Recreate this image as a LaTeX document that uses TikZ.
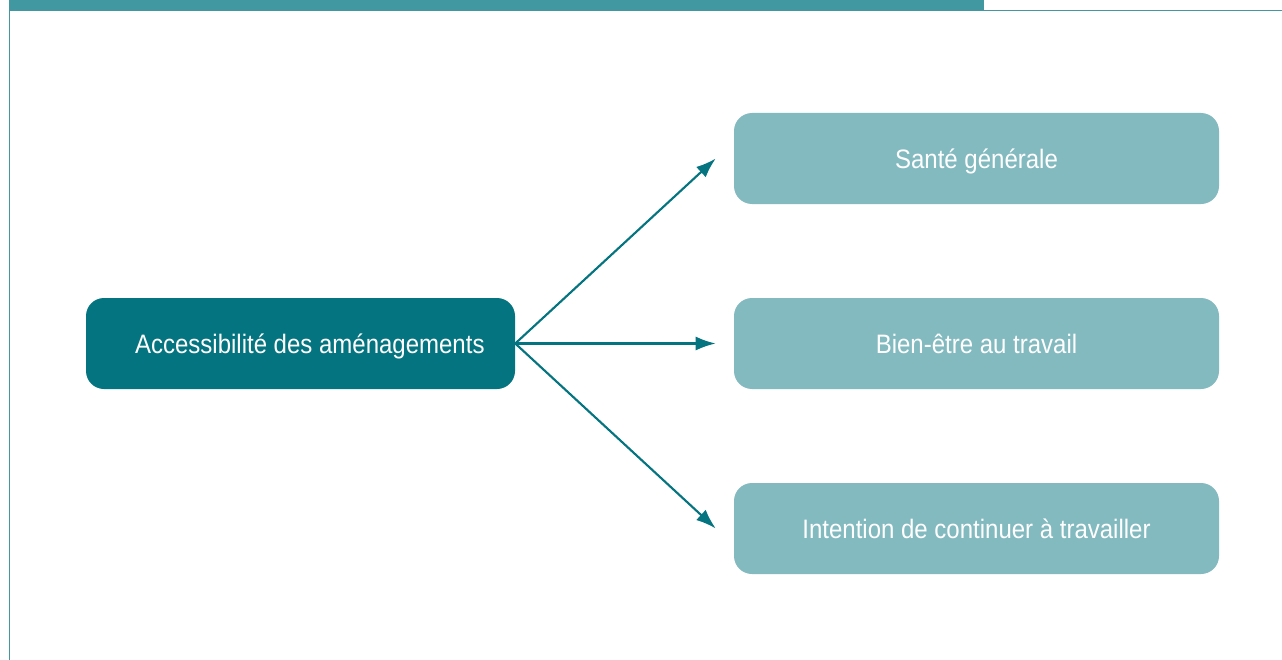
\documentclass[tikz,border=0pt]{standalone}
\usepackage{fontspec}
\setmainfont[FakeStretch=0.9]{Liberation Sans}
\usepackage{tikz}
\usetikzlibrary{positioning,arrows.meta}
\definecolor{darkteal}{RGB}{4,117,128}
\definecolor{lightteal}{RGB}{130,186,192}
\definecolor{barteal}{RGB}{66,152,161}
\tikzset{src/.style={fill=darkteal,rounded corners=13.5pt,minimum width=321.75pt,minimum height=68.25pt,inner sep=0pt,text=white,text height=14.3pt,text depth=0pt,font=\fontsize{20}{24}\selectfont},
dst/.style={fill=lightteal,rounded corners=13.5pt,minimum width=363.75pt,minimum height=68.25pt,inner sep=0pt,text=white,text height=14.3pt,text depth=0pt,font=\fontsize{20}{24}\selectfont}}

\begin{document}
\begin{tikzpicture}[x=0.75pt,y=-0.75pt,link/.style={draw=darkteal,line width=1.6pt,-{Latex[length=15pt,width=10.5pt]}}]
			\useasboundingbox (0,0) rectangle (1282,660);
			\fill[barteal] (10,0) rectangle (984,11);
			\draw[barteal,line width=0.9pt] (984,10.5) -- (1282,10.5);
			\draw[barteal,line width=1.1pt] (9.5,0) -- (9.5,660);

			\node[src] (acces) at (300.5,343.5) {\hspace*{14pt}Accessibilité des aménagements};

			\node[dst] (sante) at (976.5,158.5) {Santé générale};
			\node[dst] (bienetre) at (976.5,343.5) {Bien-être au travail};
			\node[dst] (intention) at (976.5,528.5) {Intention de continuer à travailler};

			\draw[link] (acces.east) -- ([xshift=-13.5pt]sante.west);
			\draw[link] (acces.east) -- ([xshift=-13.5pt]bienetre.west);
			\draw[link] (acces.east) -- ([xshift=-13.5pt]intention.west);
		\end{tikzpicture}
\end{document}
